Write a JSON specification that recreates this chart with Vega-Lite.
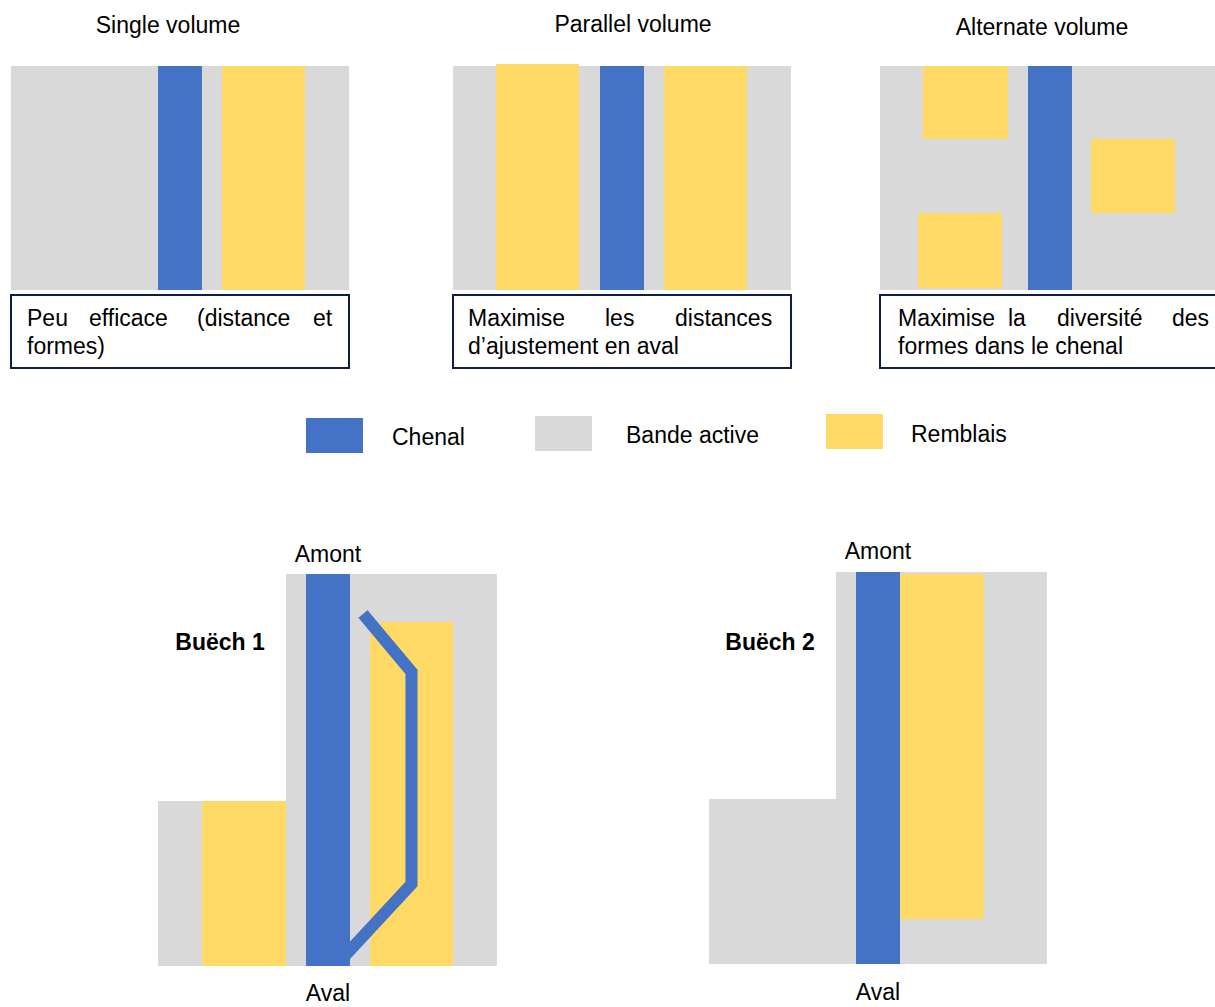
{
  "$schema": "https://vega.github.io/schema/vega-lite/v6.json",
  "width": 1215,
  "height": 1007,
  "padding": 0,
  "autosize": {"type": "none"},
  "background": "#ffffff",
  "config": {"view": {"stroke": null}},
  "datasets": {
    "rects": [
      {"k": "Bande active", "x": 11, "x2": 349, "y": 66, "y2": 290},
      {"k": "Chenal", "x": 158, "x2": 202, "y": 66, "y2": 290},
      {"k": "Remblais", "x": 222, "x2": 305, "y": 66, "y2": 290},
      {"k": "Bande active", "x": 453, "x2": 791, "y": 66, "y2": 290},
      {"k": "Remblais", "x": 496, "x2": 579, "y": 64, "y2": 290},
      {"k": "Chenal", "x": 600, "x2": 644, "y": 66, "y2": 290},
      {"k": "Remblais", "x": 664, "x2": 747, "y": 66, "y2": 290},
      {"k": "Bande active", "x": 880, "x2": 1215, "y": 66, "y2": 290},
      {"k": "Remblais", "x": 923, "x2": 1008, "y": 66, "y2": 139},
      {"k": "Chenal", "x": 1028, "x2": 1072, "y": 66, "y2": 290},
      {"k": "Remblais", "x": 1091, "x2": 1175, "y": 139, "y2": 213},
      {"k": "Remblais", "x": 918, "x2": 1002, "y": 213, "y2": 288},
      {"k": "Chenal", "x": 306, "x2": 363, "y": 418, "y2": 453},
      {"k": "Bande active", "x": 535, "x2": 592, "y": 416, "y2": 451},
      {"k": "Remblais", "x": 826, "x2": 883, "y": 414, "y2": 449},
      {"k": "Bande active", "x": 286, "x2": 497, "y": 574, "y2": 966},
      {"k": "Bande active", "x": 158, "x2": 287, "y": 801, "y2": 966},
      {"k": "Remblais", "x": 202, "x2": 286, "y": 801, "y2": 966},
      {"k": "Remblais", "x": 370, "x2": 453, "y": 622, "y2": 966},
      {"k": "Chenal", "x": 306, "x2": 350, "y": 574, "y2": 966},
      {"k": "Bande active", "x": 836, "x2": 1047, "y": 572, "y2": 964},
      {"k": "Bande active", "x": 709, "x2": 837, "y": 799, "y2": 964},
      {"k": "Remblais", "x": 900, "x2": 984, "y": 574, "y2": 919},
      {"k": "Chenal", "x": 856, "x2": 900, "y": 572, "y2": 964}
    ],
    "boxes": [
      {"x": 11, "x2": 349, "y": 295, "y2": 368},
      {"x": 453, "x2": 791, "y": 295, "y2": 368},
      {"x": 880, "x2": 1216, "y": 295, "y2": 368}
    ],
    "path": [
      {"o": 1, "x": 363, "y": 614},
      {"o": 2, "x": 411.5, "y": 672},
      {"o": 3, "x": 411.5, "y": 884},
      {"o": 4, "x": 341, "y": 960}
    ],
    "center": [
      {"t": "Single volume", "x": 168, "y": 26},
      {"t": "Parallel volume", "x": 633, "y": 25},
      {"t": "Alternate volume", "x": 1042, "y": 28},
      {"t": "Amont", "x": 328, "y": 555},
      {"t": "Aval", "x": 328, "y": 994},
      {"t": "Amont", "x": 878, "y": 552},
      {"t": "Aval", "x": 878, "y": 993}
    ],
    "left": [
      {"t": "Peu", "x": 27, "y": 319},
      {"t": "efficace", "x": 89, "y": 319},
      {"t": "(distance", "x": 197, "y": 319},
      {"t": "et", "x": 313, "y": 319},
      {"t": "formes)", "x": 27, "y": 347},
      {"t": "Maximise", "x": 468, "y": 319},
      {"t": "les", "x": 605, "y": 319},
      {"t": "distances", "x": 675, "y": 319},
      {"t": "d’ajustement en aval", "x": 468, "y": 347},
      {"t": "Maximise", "x": 898, "y": 319},
      {"t": "la", "x": 1008, "y": 319},
      {"t": "diversité", "x": 1057, "y": 319},
      {"t": "des", "x": 1172, "y": 319},
      {"t": "formes dans le chenal", "x": 898, "y": 347},
      {"t": "Chenal", "x": 392, "y": 438},
      {"t": "Bande active", "x": 626, "y": 436},
      {"t": "Remblais", "x": 911, "y": 435}
    ],
    "bold": [
      {"t": "Buëch 1", "x": 220, "y": 643},
      {"t": "Buëch 2", "x": 770, "y": 643}
    ]
  },
  "layer": [
    {
      "data": {"name": "rects"},
      "mark": {"type": "rect"},
      "encoding": {
        "x": {"field": "x", "type": "quantitative", "scale": {"domain": [0, 1215], "nice": false, "zero": false}, "axis": null},
        "x2": {"field": "x2"},
        "y": {"field": "y", "type": "quantitative", "scale": {"domain": [0, 1007], "nice": false, "zero": false, "reverse": true}, "axis": null},
        "y2": {"field": "y2"},
        "color": {"field": "k", "type": "nominal", "scale": {"domain": ["Chenal", "Bande active", "Remblais"], "range": ["#4472C4", "#D9D9D9", "#FFD966"]}, "legend": null}
      }
    },
    {
      "data": {"name": "boxes"},
      "mark": {"type": "rect", "fill": "#ffffff", "stroke": "#0F1D4A", "strokeWidth": 2},
      "encoding": {
        "x": {"field": "x", "type": "quantitative", "axis": null},
        "x2": {"field": "x2"},
        "y": {"field": "y", "type": "quantitative", "axis": null},
        "y2": {"field": "y2"}
      }
    },
    {
      "data": {"name": "path"},
      "mark": {"type": "line", "stroke": "#4472C4", "strokeWidth": 12, "strokeCap": "butt", "strokeJoin": "miter", "interpolate": "linear"},
      "encoding": {
        "x": {"field": "x", "type": "quantitative", "axis": null},
        "y": {"field": "y", "type": "quantitative", "axis": null},
        "order": {"field": "o", "type": "quantitative"}
      }
    },
    {
      "data": {"name": "center"},
      "mark": {"type": "text", "align": "center", "baseline": "middle", "font": "Liberation Sans", "fontSize": 23, "color": "#000000"},
      "encoding": {
        "x": {"field": "x", "type": "quantitative", "axis": null},
        "y": {"field": "y", "type": "quantitative", "axis": null},
        "text": {"field": "t", "type": "nominal"}
      }
    },
    {
      "data": {"name": "left"},
      "mark": {"type": "text", "align": "left", "baseline": "middle", "font": "Liberation Sans", "fontSize": 23, "color": "#000000"},
      "encoding": {
        "x": {"field": "x", "type": "quantitative", "axis": null},
        "y": {"field": "y", "type": "quantitative", "axis": null},
        "text": {"field": "t", "type": "nominal"}
      }
    },
    {
      "data": {"name": "bold"},
      "mark": {"type": "text", "align": "center", "baseline": "middle", "font": "Liberation Sans", "fontSize": 23, "fontWeight": "bold", "color": "#000000"},
      "encoding": {
        "x": {"field": "x", "type": "quantitative", "axis": null},
        "y": {"field": "y", "type": "quantitative", "axis": null},
        "text": {"field": "t", "type": "nominal"}
      }
    }
  ]
}
